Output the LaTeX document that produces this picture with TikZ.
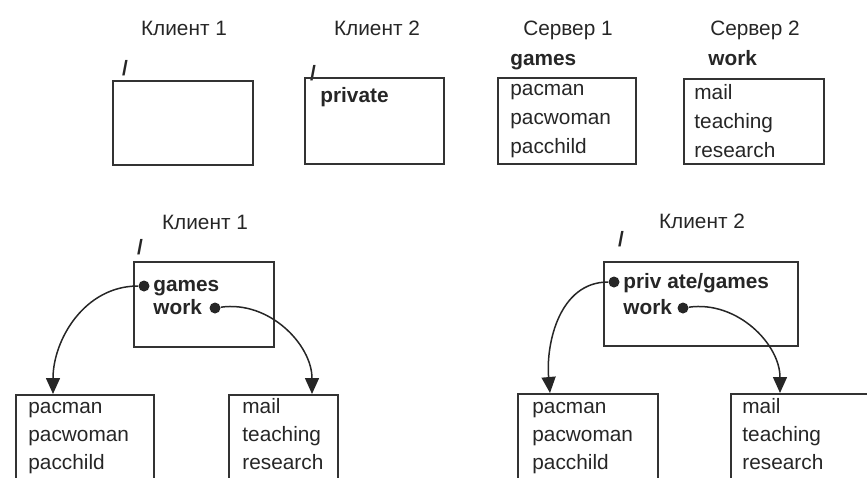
\documentclass[tikz,border=0pt]{standalone}
\usepackage{fontspec}
\setmainfont{Liberation Sans}
\usetikzlibrary{arrows.meta}

\begin{document}
\begin{tikzpicture}[x=0.5pt, y=-0.5pt, every node/.style={font=\fontsize{10.4}{12}\selectfont, text=black!85, inner sep=0pt}]
\tikzset{box/.style={draw=black!80, line width=0.75pt, anchor=north west},
  entry/.style={anchor=base west}, strong/.style={anchor=base west, font=\fontsize{10.4}{12}\selectfont\bfseries},
  title/.style={anchor=base}, root/.style={anchor=base, font=\fontsize{10.4}{12}\selectfont\bfseries},
  dot/.style={circle, fill=black!85, minimum size=5.5pt},
  link/.style={draw=black!85, line width=0.75pt, -{Triangle[length=8pt,width=7pt]}}}
\useasboundingbox (0,0) rectangle (867,477); \clip (0,0) rectangle (867,477);
% top row: two clients, two servers
\node[title] (t1) at (184,35) {Клиент 1}; \node[title] (t2) at (377,35) {Клиент 2};
\node[title] (t3) at (568,35) {Сервер 1}; \node[title] (t4) at (755,35) {Сервер 2};
\node[root] (r1) at (125,75) {/}; \node[root] (r2) at (313,80) {/};
\node[box, minimum width=70pt, minimum height=42pt] (c1) at (112,80) {};
\node[box, minimum width=69.5pt, minimum height=43pt] (c2) at (304,77) {};
\node[strong] (pv) at (320,102) {private};
\node[strong] (g0) at (510,65) {games}; \node[strong] (w0) at (708,65) {work};
\node[box, minimum width=69pt, minimum height=43pt] (s1) at (497,77) {};
\node[box, minimum width=70pt, minimum height=42.5pt] (s2) at (683,78) {};
\node[entry] (s1a) at (510,95) {pacman}; \node[entry] (s1b) at (510,124) {pacwoman}; \node[entry] (s1c) at (510,153) {pacchild};
\node[entry] (s2a) at (694,99) {mail}; \node[entry] (s2b) at (694,128) {teaching}; \node[entry] (s2c) at (694,157) {research};
% client 1 after mounting
\node[title] (t5) at (205,229) {Клиент 1}; \node[root] (r3) at (140,254) {/};
\node[box, minimum width=70pt, minimum height=42.5pt] (k1) at (133,261) {};
\node[strong] (k1g) at (153,291) {games}; \node[strong] (k1w) at (153,314) {work};
\node[dot] (gd1) at (144,286) {}; \node[dot] (wd1) at (215,308) {};
\node[box, minimum width=69pt, minimum height=50pt] (ba) at (15,394) {};
\node[box, minimum width=54.5pt, minimum height=50pt] (bb) at (228,394) {};
\node[entry] (baa) at (28,413) {pacman}; \node[entry] (bab) at (28,441) {pacwoman}; \node[entry] (bac) at (28,469) {pacchild};
\node[entry] (bba) at (242,413) {mail}; \node[entry] (bbb) at (242,441) {teaching}; \node[entry] (bbc) at (242,469) {research};
\coordinate (ta) at (53,394); \coordinate (tb) at (312,394);
\draw[link] (gd1) to[out=180, in=90] (ta);
\draw[link] (wd1) to[out=8, in=90] (tb);
% client 2 after mounting
\node[title] (t6) at (702,228) {Клиент 2}; \node[root] (r4) at (621,246) {/};
\node[box, minimum width=97pt, minimum height=42pt] (k2) at (603,261) {};
\node[strong] (k2g) at (623,288) {priv ate/games}; \node[strong] (k2w) at (623,314) {work};
\node[dot] (gd2) at (614,282) {}; \node[dot] (wd2) at (683,308) {};
\node[box, minimum width=70pt, minimum height=50pt] (bc) at (517,393) {};
\node[box, minimum width=75pt, minimum height=50pt] (bd) at (730,393) {};
\node[entry] (bca) at (532,413) {pacman}; \node[entry] (bcb) at (532,441) {pacwoman}; \node[entry] (bcc) at (532,469) {pacchild};
\node[entry] (bda) at (742,413) {mail}; \node[entry] (bdb) at (742,441) {teaching}; \node[entry] (bdc) at (742,469) {research};
\coordinate (tc) at (550,393); \coordinate (td) at (780,393);
\draw[link] (gd2) to[out=180, in=95] (tc);
\draw[link] (wd2) to[out=8, in=90] (td);
\end{tikzpicture}
\end{document}
